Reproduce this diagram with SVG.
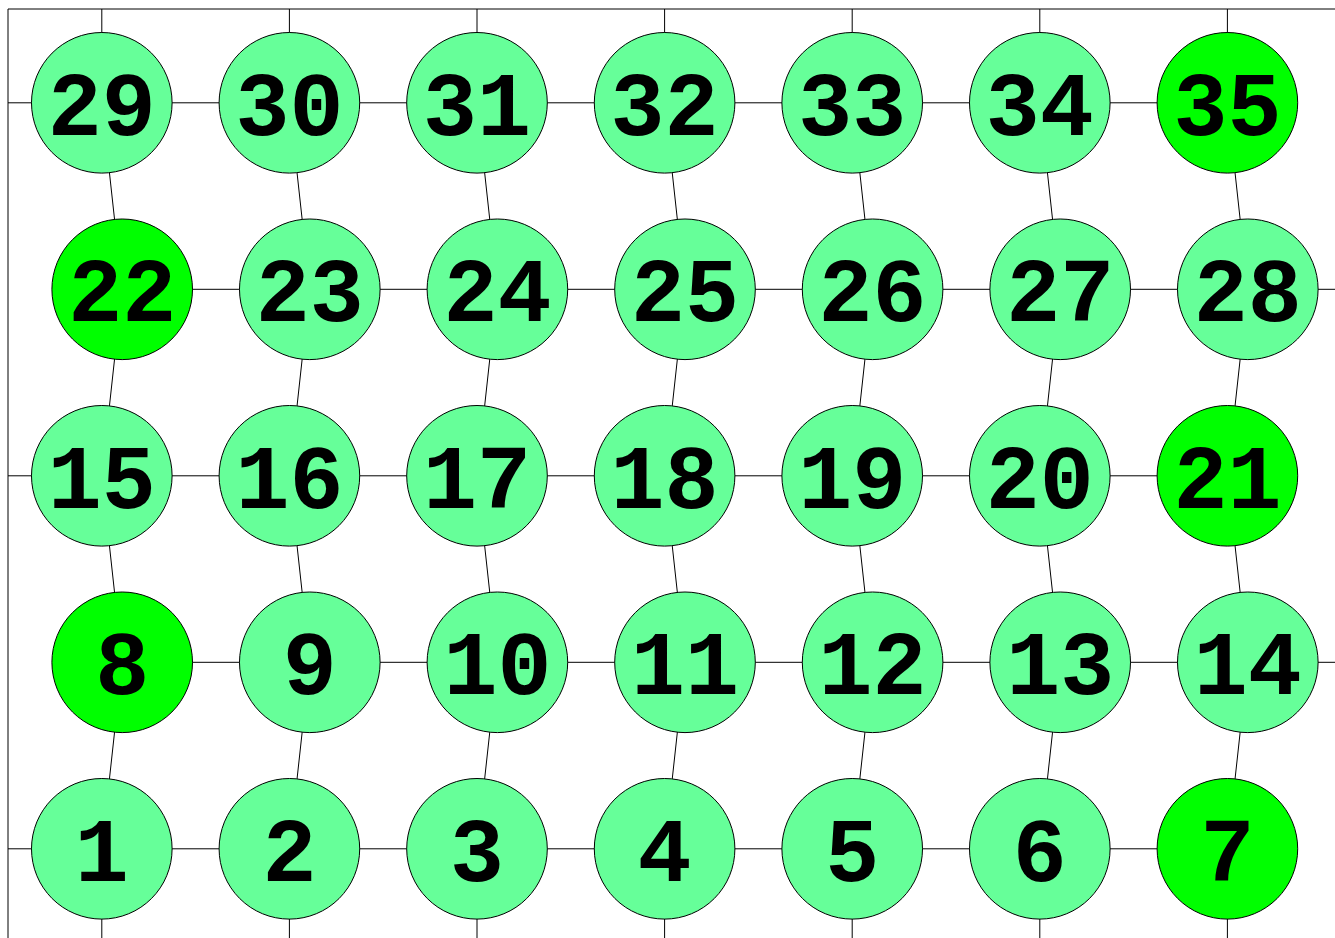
<svg xmlns="http://www.w3.org/2000/svg" width="1335" height="938" viewBox="0 0 1335 938">
<style>
.e{stroke:#000;stroke-width:1;fill:none}
.n circle{stroke:#000;stroke-width:1;fill:#66ff99}
.g circle{fill:#00ff00}
.n text{font-family:"Liberation Mono","Courier New",monospace;font-weight:bold;font-size:90px;text-anchor:middle;fill:#000}
</style>
<rect width="1335" height="938" fill="#fff"/>
<g id="connectors" class="e">
<path d="M8,9H1335M8,9V938"/>
<path d="M101.8,9V102.8M289.4,9V102.8M477,9V102.8M664.6,9V102.8M852.2,9V102.8M1039.8,9V102.8M1227.4,9V102.8"/>
<path d="M101.8,938V848.8M289.4,938V848.8M477,938V848.8M664.6,938V848.8M852.2,938V848.8M1039.8,938V848.8M1227.4,938V848.8"/>
<path d="M8,102.8H1227.4M8,475.8H1227.4M8,848.8H1227.4"/>
<path d="M122.2,289.3H1335M122.2,662.3H1335"/>
<path d="M101.8,102.8L122.2,289.3L101.8,475.8L122.2,662.3L101.8,848.8"/>
<path d="M289.4,102.8L309.8,289.3L289.4,475.8L309.8,662.3L289.4,848.8"/>
<path d="M477,102.8L497.4,289.3L477,475.8L497.4,662.3L477,848.8"/>
<path d="M664.6,102.8L685,289.3L664.6,475.8L685,662.3L664.6,848.8"/>
<path d="M852.2,102.8L872.6,289.3L852.2,475.8L872.6,662.3L852.2,848.8"/>
<path d="M1039.8,102.8L1060.2,289.3L1039.8,475.8L1060.2,662.3L1039.8,848.8"/>
<path d="M1227.4,102.8L1247.8,289.3L1227.4,475.8L1247.8,662.3L1227.4,848.8"/>
</g>
<g id="n1" class="n"><circle cx="101.8" cy="848.8" r="70.3"/><text x="101.8" y="880.8">1</text></g>
<g id="n2" class="n"><circle cx="289.4" cy="848.8" r="70.3"/><text x="289.4" y="880.8">2</text></g>
<g id="n3" class="n"><circle cx="477" cy="848.8" r="70.3"/><text x="477" y="880.8">3</text></g>
<g id="n4" class="n"><circle cx="664.6" cy="848.8" r="70.3"/><text x="664.6" y="880.8">4</text></g>
<g id="n5" class="n"><circle cx="852.2" cy="848.8" r="70.3"/><text x="852.2" y="880.8">5</text></g>
<g id="n6" class="n"><circle cx="1039.8" cy="848.8" r="70.3"/><text x="1039.8" y="880.8">6</text></g>
<g id="n7" class="n g"><circle cx="1227.4" cy="848.8" r="70.3"/><text x="1227.4" y="880.8">7</text></g>
<g id="n8" class="n g"><circle cx="122.2" cy="662.3" r="70.3"/><text x="122.2" y="694.3">8</text></g>
<g id="n9" class="n"><circle cx="309.8" cy="662.3" r="70.3"/><text x="309.8" y="694.3">9</text></g>
<g id="n10" class="n"><circle cx="497.4" cy="662.3" r="70.3"/><text x="497.4" y="694.3">10</text></g>
<g id="n11" class="n"><circle cx="685" cy="662.3" r="70.3"/><text x="685" y="694.3">11</text></g>
<g id="n12" class="n"><circle cx="872.6" cy="662.3" r="70.3"/><text x="872.6" y="694.3">12</text></g>
<g id="n13" class="n"><circle cx="1060.2" cy="662.3" r="70.3"/><text x="1060.2" y="694.3">13</text></g>
<g id="n14" class="n"><circle cx="1247.8" cy="662.3" r="70.3"/><text x="1247.8" y="694.3">14</text></g>
<g id="n15" class="n"><circle cx="101.8" cy="475.8" r="70.3"/><text x="101.8" y="507.8">15</text></g>
<g id="n16" class="n"><circle cx="289.4" cy="475.8" r="70.3"/><text x="289.4" y="507.8">16</text></g>
<g id="n17" class="n"><circle cx="477" cy="475.8" r="70.3"/><text x="477" y="507.8">17</text></g>
<g id="n18" class="n"><circle cx="664.6" cy="475.8" r="70.3"/><text x="664.6" y="507.8">18</text></g>
<g id="n19" class="n"><circle cx="852.2" cy="475.8" r="70.3"/><text x="852.2" y="507.8">19</text></g>
<g id="n20" class="n"><circle cx="1039.8" cy="475.8" r="70.3"/><text x="1039.8" y="507.8">20</text></g>
<g id="n21" class="n g"><circle cx="1227.4" cy="475.8" r="70.3"/><text x="1227.4" y="507.8">21</text></g>
<g id="n22" class="n g"><circle cx="122.2" cy="289.3" r="70.3"/><text x="122.2" y="321.3">22</text></g>
<g id="n23" class="n"><circle cx="309.8" cy="289.3" r="70.3"/><text x="309.8" y="321.3">23</text></g>
<g id="n24" class="n"><circle cx="497.4" cy="289.3" r="70.3"/><text x="497.4" y="321.3">24</text></g>
<g id="n25" class="n"><circle cx="685" cy="289.3" r="70.3"/><text x="685" y="321.3">25</text></g>
<g id="n26" class="n"><circle cx="872.6" cy="289.3" r="70.3"/><text x="872.6" y="321.3">26</text></g>
<g id="n27" class="n"><circle cx="1060.2" cy="289.3" r="70.3"/><text x="1060.2" y="321.3">27</text></g>
<g id="n28" class="n"><circle cx="1247.8" cy="289.3" r="70.3"/><text x="1247.8" y="321.3">28</text></g>
<g id="n29" class="n"><circle cx="101.8" cy="102.8" r="70.3"/><text x="101.8" y="134.8">29</text></g>
<g id="n30" class="n"><circle cx="289.4" cy="102.8" r="70.3"/><text x="289.4" y="134.8">30</text></g>
<g id="n31" class="n"><circle cx="477" cy="102.8" r="70.3"/><text x="477" y="134.8">31</text></g>
<g id="n32" class="n"><circle cx="664.6" cy="102.8" r="70.3"/><text x="664.6" y="134.8">32</text></g>
<g id="n33" class="n"><circle cx="852.2" cy="102.8" r="70.3"/><text x="852.2" y="134.8">33</text></g>
<g id="n34" class="n"><circle cx="1039.8" cy="102.8" r="70.3"/><text x="1039.8" y="134.8">34</text></g>
<g id="n35" class="n g"><circle cx="1227.4" cy="102.8" r="70.3"/><text x="1227.4" y="134.8">35</text></g>
</svg>
